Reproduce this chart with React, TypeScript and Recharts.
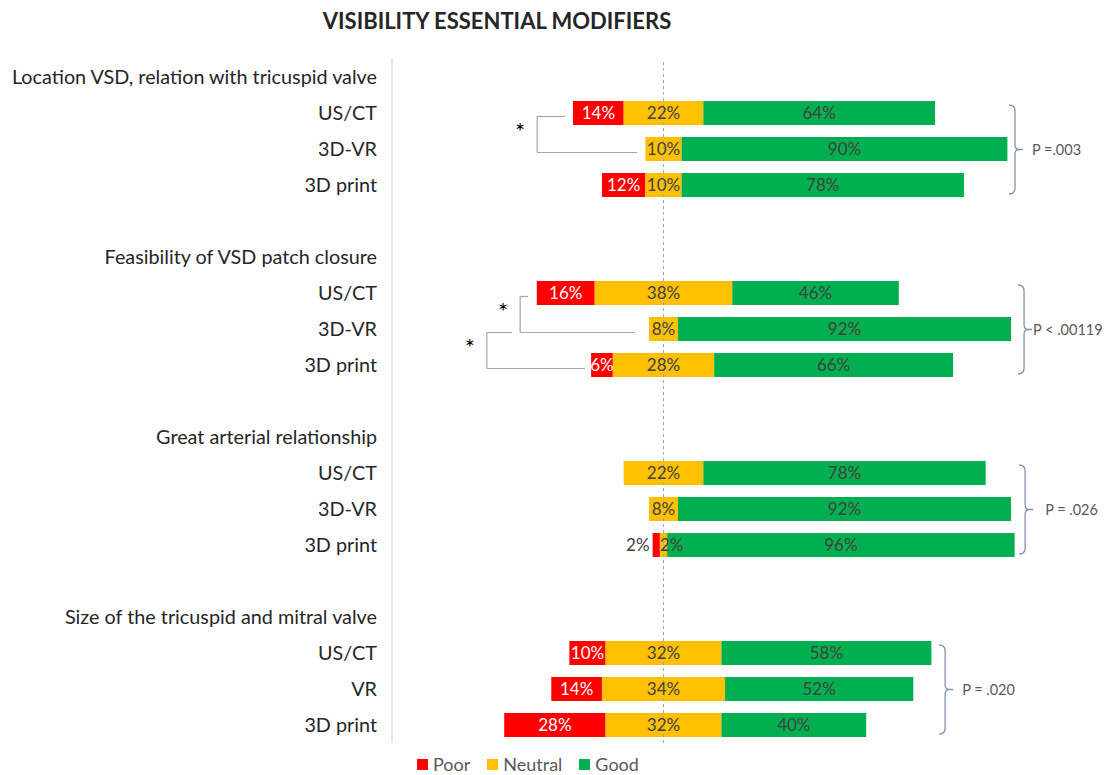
import React from 'react';
import { BarChart, Bar, XAxis, YAxis, ReferenceLine, Legend, LabelList } from 'recharts';

const groupTitles = [
  'Location VSD, relation with tricuspid valve',
  'Feasibility of VSD patch closure',
  'Great arterial relationship',
  'Size of the tricuspid and mitral valve',
];
const modalities = [
  ['US/CT', '3D-VR', '3D print'],
  ['US/CT', '3D-VR', '3D print'],
  ['US/CT', '3D-VR', '3D print'],
  ['US/CT', 'VR', '3D print'],
];
const poor = [
  [14, 0, 12],
  [16, 0, 6],
  [0, 0, 2],
  [10, 14, 28],
];
const neutral = [
  [22, 10, 10],
  [38, 8, 28],
  [22, 8, 2],
  [32, 34, 32],
];
const good = [
  [64, 90, 78],
  [46, 92, 66],
  [78, 92, 96],
  [58, 52, 40],
];
const pValues = ['P =.003', 'P < .00119', 'P = .026', 'P = .020'];
const legendOrder = ['Poor', 'Neutral', 'Good'];

// annotation layout (data units on the x axis)
const CENTER = 75;
const X_MAX = 180;
const braceX = [172.1, 174.6, 174.9, 152.8];
const braceTextDx = [17, 9, 20, 17];
const sigBrackets = [
  { group: 0, a: 0, b: 1, x: 40.1, armA: 47.8, armB: 67.7 },
  { group: 1, a: 0, b: 1, x: 35.4, armA: 37.6, armB: 67.1 },
  { group: 1, a: 1, b: 2, x: 26.2, armA: 33.1, armB: 53.3 },
];

const COLORS = { poor: '#FF0000', neutral: '#FFC000', good: '#00B050' };
const FONT = 'Lato, "Open Sans", sans-serif';

type Row = {
  key: string;
  label: string;
  pad?: number;
  poor?: number;
  neutral?: number;
  good?: number;
};

const rows: Row[] = [];
groupTitles.forEach((t, g) => {
  rows.push({ key: `t${g}`, label: t });
  modalities[g].forEach((m, i) => {
    const p = poor[g][i];
    const n = neutral[g][i];
    rows.push({
      key: `r${g}-${i}`,
      label: m,
      pad: CENTER - p - n / 2,
      poor: p,
      neutral: n,
      good: good[g][i],
    });
  });
  if (g < groupTitles.length - 1) rows.push({ key: `gap${g}`, label: '' });
});
const labelOf: Record<string, string> = {};
rows.forEach((r) => (labelOf[r.key] = r.label));
const rowKey = (g: number, i: number) => `r${g}-${i}`;

const renderTick = (props: any) => {
  const { x, y, payload } = props;
  return (
    <text x={x} y={y} dy="0.35em" textAnchor="end" fill="#262626" fontSize={19.8} fontFamily={FONT}>
      {labelOf[payload.value]}
    </text>
  );
};

const makeLabel = (kind: 'poor' | 'neutral' | 'good') => (props: any) => {
  const vb = props.viewBox || {};
  const x = props.x ?? vb.x;
  const y = props.y ?? vb.y;
  const width = props.width ?? vb.width;
  const height = props.height ?? vb.height;
  const value = props.value;
  if (!value) return null;
  const common = { y: y + height / 2, dy: '0.35em', fontSize: 17, fontFamily: FONT };
  if (kind === 'poor' && value < 4) {
    return (
      <text x={x - 3} textAnchor="end" fill="#404040" {...common}>
        {value}%
      </text>
    );
  }
  if (kind === 'neutral' && value < 4) {
    return (
      <text x={x} textAnchor="start" fill="#404040" {...common}>
        {value}%
      </text>
    );
  }
  return (
    <text x={x + width / 2} textAnchor="middle" fill={kind === 'poor' ? '#FFFFFF' : '#404040'} {...common}>
      {value}%
    </text>
  );
};

const shiftedLine = (dy: number) => (props: any) => (
  <line x1={props.x1} y1={props.y1 + dy} x2={props.x2} y2={props.y2 + dy} stroke="#A6A6A6" strokeWidth={1.2} />
);

const braceShape = (text: string, dx: number) => (props: any) => {
  const x = props.x1;
  const top = Math.min(props.y1, props.y2) - 8;
  const bot = Math.max(props.y1, props.y2) + 9;
  const mid = (top + bot) / 2;
  const d = `M ${x - 6} ${top} Q ${x} ${top} ${x} ${top + 6} L ${x} ${mid - 5} Q ${x} ${mid} ${x + 4} ${mid} Q ${x} ${mid} ${x} ${mid + 5} L ${x} ${bot - 6} Q ${x} ${bot} ${x - 6} ${bot} M ${x + 4} ${mid} L ${x + 8} ${mid}`;
  return (
    <g>
      <path d={d} fill="none" stroke="#8393AA" strokeWidth={1.3} />
      <text x={x + dx} y={mid} dy="0.35em" fill="#595959" fontSize={14.5} fontFamily={FONT}>
        {text}
      </text>
    </g>
  );
};

const renderLegend = (props: any) => {
  const items = (props.payload || [])
    .filter((p: any) => p.dataKey !== 'pad' && p.type !== 'none')
    .sort((a: any, b: any) => legendOrder.indexOf(a.value) - legendOrder.indexOf(b.value));
  return (
    <div
      style={{
        display: 'flex',
        alignItems: 'center',
        height: 24,
        paddingLeft: 417,
        fontFamily: FONT,
        fontSize: 18,
        color: '#595959',
      }}
    >
      {items.map((e: any) => (
        <span key={e.value} style={{ display: 'flex', alignItems: 'center', marginRight: 17 }}>
          <span style={{ display: 'inline-block', width: 11, height: 11, background: e.color, marginRight: 5 }} />
          {e.value}
        </span>
      ))}
    </div>
  );
};

export default function App() {
  return (
    <div style={{ position: 'absolute', left: 0, top: 0, width: 1107, height: 775, background: '#fff' }}>
      <BarChart
        layout="vertical"
        width={1107}
        height={775}
        data={rows}
        margin={{ top: 59, right: 1107 - 392 - X_MAX * 3.62, bottom: 8, left: 0 }}
        barSize={24}
      >
        <XAxis type="number" domain={[0, X_MAX]} hide allowDataOverflow />
        <YAxis
          type="category"
          dataKey="key"
          width={392}
          interval={0}
          tickLine={false}
          tickSize={0}
          tickMargin={15}
          axisLine={{ stroke: '#D9D9D9', strokeWidth: 1.3 }}
          tick={renderTick}
        />
        <ReferenceLine x={CENTER} stroke="#A6A6A6" strokeDasharray="3 3" />
        <Bar dataKey="pad" stackId="a" fill="transparent" legendType="none" isAnimationActive={false} />
        <Bar dataKey="poor" name="Poor" stackId="a" fill={COLORS.poor} isAnimationActive={false}>
          <LabelList dataKey="poor" content={makeLabel('poor')} />
        </Bar>
        <Bar dataKey="neutral" name="Neutral" stackId="a" fill={COLORS.neutral} isAnimationActive={false}>
          <LabelList dataKey="neutral" content={makeLabel('neutral')} />
        </Bar>
        <Bar dataKey="good" name="Good" stackId="a" fill={COLORS.good} isAnimationActive={false}>
          <LabelList dataKey="good" content={makeLabel('good')} />
        </Bar>
        {sigBrackets.map((b, i) => [
          <ReferenceLine
            key={`v${i}`}
            segment={[
              { x: b.x, y: rowKey(b.group, b.a) },
              { x: b.x, y: rowKey(b.group, b.b) },
            ]}
            shape={shiftedLine(3.5)}
            label={{ value: '*', position: 'left', offset: 12, fill: '#000', fontSize: 24, fontFamily: FONT }}
          />,
          <ReferenceLine
            key={`a${i}`}
            segment={[
              { x: b.x, y: rowKey(b.group, b.a) },
              { x: b.armA, y: rowKey(b.group, b.a) },
            ]}
            shape={shiftedLine(3.5)}
          />,
          <ReferenceLine
            key={`b${i}`}
            segment={[
              { x: b.x, y: rowKey(b.group, b.b) },
              { x: b.armB, y: rowKey(b.group, b.b) },
            ]}
            shape={shiftedLine(3.5)}
          />,
        ])}
        {groupTitles.map((_, g) => (
          <ReferenceLine
            key={`brace${g}`}
            segment={[
              { x: braceX[g], y: rowKey(g, 0) },
              { x: braceX[g], y: rowKey(g, 2) },
            ]}
            shape={braceShape(pValues[g], braceTextDx[g])}
          />
        ))}
        <Legend
          verticalAlign="bottom"
          content={renderLegend}
          wrapperStyle={{ left: 0, top: 752, bottom: 'auto', width: 1107, height: 24 }}
        />
      </BarChart>
      <div
        style={{
          position: 'absolute',
          left: 0,
          top: 6,
          width: 994,
          textAlign: 'center',
          fontFamily: FONT,
          fontSize: 22,
          fontWeight: 700,
          lineHeight: '30px',
          color: '#262626',
        }}
      >
        VISIBILITY ESSENTIAL MODIFIERS
      </div>
    </div>
  );
}
